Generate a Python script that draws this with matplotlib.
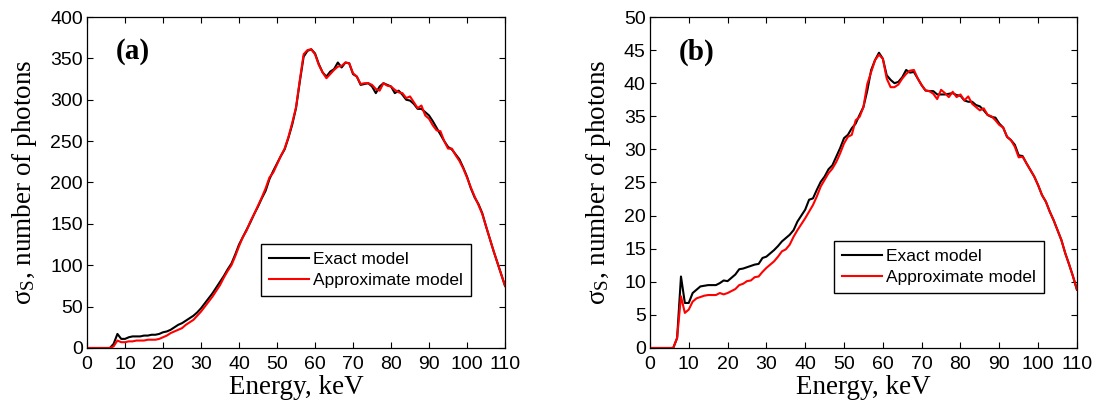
import matplotlib

matplotlib.use('Agg')

import numpy as np
import matplotlib.pyplot as plt

plt.rcParams['font.family'] = ['Liberation Sans', 'DejaVu Sans']
plt.rcParams['mathtext.fontset'] = 'custom'
plt.rcParams['mathtext.rm'] = 'Liberation Serif'
plt.rcParams['mathtext.it'] = 'Liberation Serif:italic'

# energy grid, keV
energy = np.arange(0, 111)

# panel (a) - exact model
exact_a = [0, 0, 0, 0, 0, 0, 0, 5, 17, 11, 11, 13, 14, 14, 14, 15, 15, 16, 16, 17,
           19, 20, 22, 25, 28, 30, 33, 36, 39, 43, 48, 54, 60, 66, 73, 80, 87, 95, 102, 113,
           125, 134, 143, 152, 162, 171, 181, 190, 204, 214, 223, 232, 240, 254, 270, 290, 322, 352, 359, 361,
           356, 343, 333, 328, 334, 337, 345, 339, 345, 344, 331, 328, 318, 319, 320, 316, 308, 316, 320, 318,
           316, 308, 311, 306, 300, 299, 295, 289, 289, 285, 281, 274, 266, 258, 250, 243, 240, 234, 228, 218,
           207, 193, 182, 174, 163, 147, 132, 117, 103, 89, 75]
# panel (a) - approximate model
approx_a = [0, 0, 0, 0, 0, 0, 0, 2, 9, 7, 7, 8, 8, 9, 9, 9, 10, 10, 10, 11,
            13, 15, 18, 20, 22, 24, 28, 31, 34, 39, 44, 50, 56, 62, 69, 76, 85, 93, 100, 111,
            123, 134, 142, 153, 162, 172, 182, 193, 206, 212, 222, 232, 241, 255, 272, 291, 324, 355, 360, 361,
            355, 342, 333, 326, 331, 336, 340, 341, 345, 344, 332, 328, 319, 320, 320, 318, 313, 311, 320, 317,
            316, 312, 309, 308, 302, 304, 297, 290, 293, 281, 277, 269, 263, 262, 250, 241, 241, 233, 226, 217,
            206, 194, 183, 173, 162, 147, 132, 117, 103, 89, 75]

# panel (b) - exact model
exact_b = [0, 0, 0, 0, 0, 0, 0, 1.5, 10.8, 6.8, 6.8, 8.3, 8.8, 9.3, 9.4, 9.5, 9.5, 9.5, 9.8, 10.2,
           10.1, 10.6, 11.1, 11.9, 12.0, 12.2, 12.4, 12.6, 12.7, 13.6, 13.8, 14.3, 14.8, 15.4, 16.1, 16.6, 17.1, 17.8, 19.1, 20.0,
           20.9, 22.4, 22.6, 23.9, 25.1, 25.9, 27.0, 27.6, 28.9, 30.2, 31.7, 32.2, 33.2, 33.9, 35.2, 36.4, 38.9, 42.0, 43.5, 44.6,
           43.7, 41.2, 40.5, 40.0, 40.2, 40.9, 42.0, 41.6, 41.7, 40.7, 39.7, 38.9, 38.8, 38.8, 38.3, 38.3, 38.3, 38.4, 38.5, 38.2,
           38.1, 37.4, 37.2, 37.2, 36.7, 36.5, 35.9, 35.2, 34.9, 34.8, 33.9, 33.3, 31.9, 31.4, 30.7, 29.1, 29.0, 27.9, 26.9, 25.9,
           24.6, 23.1, 22.1, 20.6, 19.3, 17.8, 16.3, 14.3, 12.6, 10.8, 8.8]
# panel (b) - approximate model
approx_b = [0, 0, 0, 0, 0, 0, 0, 1.5, 7.8, 5.3, 5.8, 7.0, 7.5, 7.7, 7.9, 8.0, 8.0, 8.0, 8.3, 8.1,
            8.3, 8.6, 8.9, 9.5, 9.7, 10.1, 10.2, 10.7, 10.8, 11.5, 12.1, 12.6, 13.1, 13.8, 14.6, 14.9, 15.6, 16.8, 17.8, 18.7,
            19.6, 20.6, 21.6, 22.9, 24.4, 25.4, 26.4, 27.1, 28.1, 29.4, 30.9, 31.9, 32.2, 34.4, 34.9, 36.4, 39.9, 41.7, 43.5, 44.3,
            43.7, 40.7, 39.4, 39.4, 39.8, 40.7, 41.4, 41.9, 42.0, 40.7, 39.7, 38.9, 38.8, 38.4, 37.6, 39.0, 38.5, 37.9, 38.7, 37.9,
            38.3, 37.4, 38.0, 36.9, 36.4, 35.9, 36.2, 35.2, 35.0, 34.4, 33.7, 33.3, 31.9, 31.4, 30.4, 28.8, 28.9, 27.9, 26.9, 25.9,
            24.6, 23.1, 22.1, 20.6, 19.3, 17.8, 16.3, 14.3, 12.6, 10.8, 8.8]

xticks = np.arange(0, 111, 10)
yticks_a = np.arange(0, 401, 50)
yticks_b = np.arange(0, 51, 5)

serif = 'Liberation Serif'

fig = plt.figure(figsize=(10.96, 4.03), dpi=100)
ax_a = fig.add_axes([0.0794, 0.1365, 0.3814, 0.8213])
ax_b = fig.add_axes([0.593, 0.1365, 0.3896, 0.8213])

panels = [
    (ax_a, exact_a, approx_a, yticks_a, '(a)', 358, (0.416, 0.157)),
    (ax_b, exact_b, approx_b, yticks_b, '(b)', 44.7, (0.431, 0.166)),
]

for ax, ex, ap, yt, tag, tag_y, leg_pos in panels:
    ax.plot(energy, ex, color='black', lw=1.5, label='Exact model')
    ax.plot(energy, ap, color='#ff0000', lw=1.5, label='Approximate model')
    ax.set_xlim(0, 110)
    ax.set_ylim(yt[0], yt[-1])
    ax.set_xticks(xticks)
    ax.set_yticks(yt)
    ax.tick_params(direction='in', top=True, right=True, length=4, width=0.8, labelsize=14)
    ax.tick_params(axis='x', pad=6)
    ax.tick_params(axis='y', pad=3)
    for sp in ax.spines.values():
        sp.set_linewidth(0.9)
    ax.set_xlabel('Energy, keV', family=serif, fontsize=19.5, labelpad=1)
    ax.set_ylabel(r'$\mathrm{σ_S}$, number of photons', family=serif, fontsize=19.5, labelpad=8)
    ax.text(12, tag_y, tag, family=serif, fontweight='bold', fontsize=21, ha='center', va='center')
    leg = ax.legend(loc='lower left', bbox_to_anchor=leg_pos, fontsize=12.5, fancybox=False,
                    edgecolor='black', framealpha=1, borderpad=0.45, handlelength=2.3,
                    handletextpad=0.25, labelspacing=0.35, borderaxespad=0)
    leg.get_frame().set_linewidth(1.0)

plt.savefig('out.png', dpi=100)
